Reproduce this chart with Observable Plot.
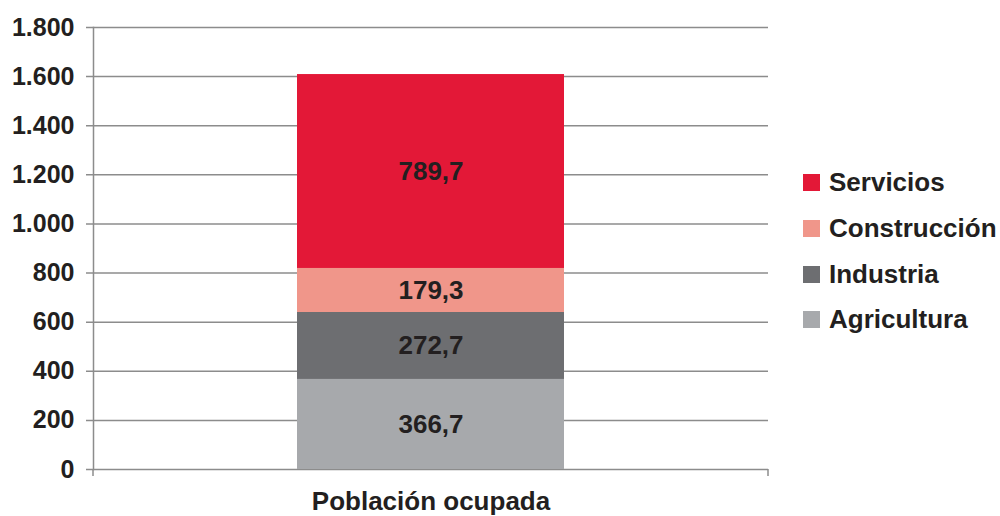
<!DOCTYPE html>
<html>
<head>
<meta charset="utf-8">
<script src="https://cdn.jsdelivr.net/npm/d3@7"></script>
<script src="https://cdn.jsdelivr.net/npm/@observablehq/plot@0.6"></script>
<style>
  html, body { margin: 0; padding: 0; background: #fff; }
  #wrap { position: relative; width: 1000px; height: 516px; font-family: "Liberation Sans", Arial, sans-serif; }
  #legend { position: absolute; left: 803px; top: 160px; }
  .item { display: flex; align-items: center; height: 45.7px; font-weight: bold; font-size: 26px; color: #231f20; white-space: nowrap; }
  .sw { width: 17px; height: 17px; margin-right: 9px; flex: none; }
</style>
</head>
<body>
<div id="wrap"><div id="chart"></div><div id="legend"></div></div>
<script>
const category = ["Población ocupada"];
const sectors = ["Agricultura", "Industria", "Construcción", "Servicios"];
const values = [366.7, 272.7, 179.3, 789.7];
const colors = ["#a7a9ac", "#6d6e71", "#f0968a", "#e31837"];
const yTicks = [0, 200, 400, 600, 800, 1000, 1200, 1400, 1600, 1800];
const legendOrder = ["Servicios", "Construcción", "Industria", "Agricultura"];

const es = d3.formatLocale({decimal: ",", thousands: ".", grouping: [3], currency: ["", " €"]});
const fmtTick = es.format(",.0f");
const fmtVal = es.format(",.1f");

const data = sectors.map((s, i) => ({category: category[0], sector: s, value: values[i]}));
const gridColor = "#8c8c8c";

const plot = Plot.plot({
  width: 790,
  height: 516,
  marginLeft: 93,
  marginRight: 22,
  marginTop: 27,
  marginBottom: 47,
  style: {fontFamily: "Liberation Sans, Arial, sans-serif", background: "#fff", overflow: "visible"},
  x: {domain: category, padding: 0.433, label: null},
  y: {domain: [0, 1800], label: null},
  color: {domain: sectors, range: colors},
  marks: [
    Plot.ruleY(yTicks, {stroke: gridColor, strokeWidth: 1.5, insetLeft: -7}),
    Plot.frame({anchor: "left", stroke: gridColor, strokeWidth: 1.5}),
    Plot.barY(data, Plot.stackY({x: "category", y: "value", fill: "sector", z: "sector"})),
    Plot.text(data, Plot.stackY({x: "category", y: "value", z: "sector", text: d => fmtVal(d.value),
      fill: "#231f20", fontSize: 26, fontWeight: "bold"})),
    Plot.axisY({ticks: yTicks, tickFormat: fmtTick, tickSize: 0, tickPadding: 19,
      fontSize: 25, fontWeight: "bold", fill: "#231f20", label: null}),
    Plot.axisX({tickSize: 0, tickPadding: 22, fontSize: 26, fontWeight: "bold", fill: "#231f20", label: null})
  ]
});

// boundary ticks below the baseline, placed from the plot's own scales
const xs = plot.scale("x"), ys = plot.scale("y");
const svg = d3.select(plot);
const y0 = ys.apply(0);
const g = svg.append("g").attr("stroke", gridColor).attr("stroke-width", 1.5);
xs.range.forEach(xv => {
  g.append("line").attr("x1", xv).attr("x2", xv).attr("y1", y0).attr("y2", y0 + 7);
});

document.getElementById("chart").appendChild(plot);

const legend = d3.select("#legend");
legendOrder.forEach(s => {
  const it = legend.append("div").attr("class", "item");
  it.append("div").attr("class", "sw").style("background", colors[sectors.indexOf(s)]);
  it.append("span").text(s);
});
</script>
</body>
</html>
